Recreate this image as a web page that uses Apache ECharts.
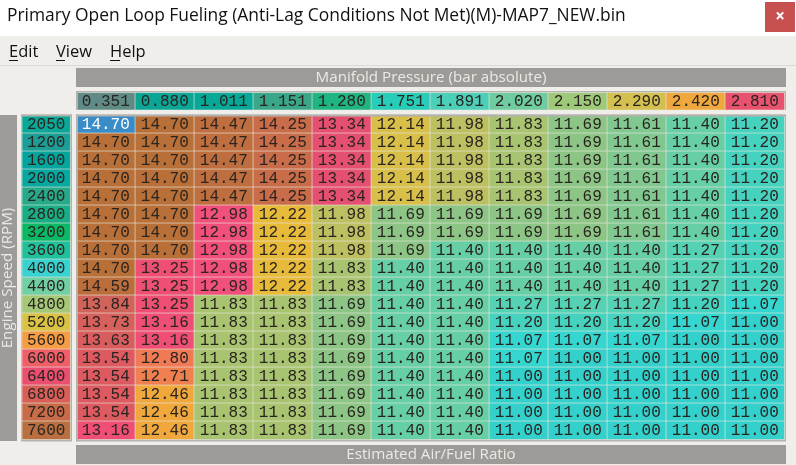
<!DOCTYPE html>
<html lang="en">
  <head>
    <meta charset="UTF-8" />
    <title>Primary Open Loop Fueling</title>
    <script src="https://cdn.jsdelivr.net/npm/echarts@6/dist/echarts.min.js"></script>
    <style>
      html, body { margin: 0; padding: 0; background: #f0eeeb; }
      #main { width: 796px; height: 465px; }
    </style>
  </head>

  <body>
    <div id="main"></div>
    <script type="text/javascript">
      const pressures = [0.351, 0.88, 1.011, 1.151, 1.28, 1.751, 1.891, 2.02, 2.15, 2.29, 2.42, 2.81];
      const rpms = [2050, 1200, 1600, 2000, 2400, 2800, 3200, 3600, 4000, 4400, 4800, 5200, 5600, 6000, 6400, 6800, 7200, 7600];
      const afr2050 = [14.7, 14.7, 14.47, 14.25, 13.34, 12.14, 11.98, 11.83, 11.69, 11.61, 11.4, 11.2];
      const afr1200 = [14.7, 14.7, 14.47, 14.25, 13.34, 12.14, 11.98, 11.83, 11.69, 11.61, 11.4, 11.2];
      const afr1600 = [14.7, 14.7, 14.47, 14.25, 13.34, 12.14, 11.98, 11.83, 11.69, 11.61, 11.4, 11.2];
      const afr2000 = [14.7, 14.7, 14.47, 14.25, 13.34, 12.14, 11.98, 11.83, 11.69, 11.61, 11.4, 11.2];
      const afr2400 = [14.7, 14.7, 14.47, 14.25, 13.34, 12.14, 11.98, 11.83, 11.69, 11.61, 11.4, 11.2];
      const afr2800 = [14.7, 14.7, 12.98, 12.22, 11.98, 11.69, 11.69, 11.69, 11.69, 11.61, 11.4, 11.2];
      const afr3200 = [14.7, 14.7, 12.98, 12.22, 11.98, 11.69, 11.69, 11.69, 11.69, 11.61, 11.4, 11.2];
      const afr3600 = [14.7, 14.7, 12.98, 12.22, 11.98, 11.69, 11.4, 11.4, 11.4, 11.4, 11.27, 11.2];
      const afr4000 = [14.7, 13.25, 12.98, 12.22, 11.83, 11.4, 11.4, 11.4, 11.4, 11.4, 11.27, 11.2];
      const afr4400 = [14.59, 13.25, 12.98, 12.22, 11.83, 11.4, 11.4, 11.4, 11.4, 11.4, 11.27, 11.2];
      const afr4800 = [13.84, 13.25, 11.83, 11.83, 11.69, 11.4, 11.4, 11.27, 11.27, 11.27, 11.2, 11.07];
      const afr5200 = [13.73, 13.16, 11.83, 11.83, 11.69, 11.4, 11.4, 11.2, 11.2, 11.2, 11.07, 11.0];
      const afr5600 = [13.63, 13.16, 11.83, 11.83, 11.69, 11.4, 11.4, 11.07, 11.07, 11.07, 11.0, 11.0];
      const afr6000 = [13.54, 12.8, 11.83, 11.83, 11.69, 11.4, 11.4, 11.07, 11.0, 11.0, 11.0, 11.0];
      const afr6400 = [13.54, 12.71, 11.83, 11.83, 11.69, 11.4, 11.4, 11.0, 11.0, 11.0, 11.0, 11.0];
      const afr6800 = [13.54, 12.46, 11.83, 11.83, 11.69, 11.4, 11.4, 11.0, 11.0, 11.0, 11.0, 11.0];
      const afr7200 = [13.54, 12.46, 11.83, 11.83, 11.69, 11.4, 11.4, 11.0, 11.0, 11.0, 11.0, 11.0];
      const afr7600 = [13.16, 12.46, 11.83, 11.83, 11.69, 11.4, 11.4, 11.0, 11.0, 11.0, 11.0, 11.0];
      const afrRows = [afr2050, afr1200, afr1600, afr2000, afr2400, afr2800, afr3200, afr3600, afr4000, afr4400, afr4800, afr5200, afr5600, afr6000, afr6400, afr6800, afr7200, afr7600];

      const pressureColors = ["#5f8a86", "#0aa595", "#06a898", "#3aa78a", "#1fb583", "#27cdb8", "#4ccfb8", "#6ecca0", "#9fc97a", "#d4c050", "#f0a83e", "#e8526e"];
      const rpmColors = ["#0ba898", "#1c9e96", "#04a59c", "#06a8a0", "#27a98a", "#19ad85", "#0bb866", "#1fc09a", "#38d2d0", "#70cfa3", "#a4c878", "#d9c244", "#f59d44", "#f05f68", "#ea4f70", "#d85f58", "#c86b48", "#b96f3f"];
      const afrColors = {
        "14.70": "#b86f38", "14.59": "#bb6e3b", "14.47": "#bf6f3f", "14.25": "#c96c49",
        "13.84": "#d0645a", "13.73": "#d5605c", "13.63": "#d95d5e", "13.54": "#dc5a60",
        "13.34": "#e65070", "13.25": "#ee4f73", "13.16": "#ef4f75", "12.98": "#f0507a",
        "12.80": "#f07a55", "12.71": "#f08050", "12.46": "#f0a83c", "12.22": "#e8ba3a",
        "12.14": "#d8bf4a", "11.98": "#bcc060", "11.83": "#a8c470", "11.69": "#8cc585",
        "11.61": "#80c890", "11.40": "#66cfa6", "11.27": "#55d1b4", "11.20": "#45d3c0",
        "11.07": "#36d6d0", "11.00": "#34d0cc"
      };

      const cellFont = { fontFamily: "Liberation Mono", fontSize: 16, color: "#2a2420" };
      const cellBorder = { borderColor: "rgba(232,232,222,0.62)", borderWidth: 1 };
      const headerFont = { fontFamily: "Open Sans", fontSize: 15.2, fill: "#ebe9e5" };
      const menuFont = { fontFamily: "Open Sans", fontSize: 16.5, fill: "#111" };

      const afrData = [];
      afrRows.forEach(function (row, r) {
        row.forEach(function (v, c) {
          const item = {
            value: [c, r, v],
            itemStyle: { color: afrColors[v.toFixed(2)] },
          };
          if (r === 0 && c === 0) {
            item.itemStyle.color = "#3a8cc8"; // selected cell
            item.label = { color: "#fff" };
          }
          afrData.push(item);
        });
      });
      const pressureData = pressures.map(function (p, c) {
        return { value: [c, 0, p], itemStyle: { color: pressureColors[c] } };
      });
      const rpmData = rpms.map(function (n, r) {
        return { value: [0, r, n], itemStyle: { color: rpmColors[r] } };
      });

      function panel(x, y, w, h, color) {
        return { type: "rect", z: -1, shape: { x: x, y: y, width: w, height: h }, style: { fill: color } };
      }
      function hiddenAxis(count, inverse, gridIndex) {
        return { type: "category", show: false, inverse: inverse, gridIndex: gridIndex, data: Array.from({ length: count }, function (_, i) { return i; }) };
      }
      function heat(name, xy, data, fmt) {
        return {
          type: "heatmap",
          name: name,
          xAxisIndex: xy,
          yAxisIndex: xy,
          data: data,
          itemStyle: cellBorder,
          label: Object.assign({ show: true, formatter: fmt }, cellFont),
          emphasis: { disabled: true },
        };
      }

      const myChart = echarts.init(document.getElementById("main"));
      const option = {
        animation: false,
        backgroundColor: "#f0eeeb",
        grid: [
          { left: 76.3, top: 115.3, width: 708, height: 324 },
          { left: 76.3, top: 92.8, width: 708, height: 17 },
          { left: 22.2, top: 115.3, width: 48, height: 324 },
        ],
        xAxis: [hiddenAxis(12, false, 0), hiddenAxis(12, false, 1), hiddenAxis(1, false, 2)],
        yAxis: [hiddenAxis(18, true, 0), hiddenAxis(1, true, 1), hiddenAxis(18, true, 2)],
        series: [
          heat("Estimated Air/Fuel Ratio", 0, afrData, function (p) { return p.value[2].toFixed(2); }),
          heat("Manifold Pressure", 1, pressureData, function (p) { return p.value[2].toFixed(3); }),
          heat("Engine Speed", 2, rpmData, function (p) { return String(p.value[2]); }),
        ],
        graphic: [
          panel(0, 0, 796, 36, "#ffffff"),
          panel(0, 65, 796, 1, "#dcdad6"),
          panel(76, 68, 710, 19, "#9d9b98"),
          panel(76, 445, 710, 19, "#9d9b98"),
          panel(0, 115, 17, 326, "#9d9b98"),
          panel(76, 91, 710, 19, "#b4b2ae"),
          panel(76, 114.5, 710, 327, "#b4b2ae"),
          panel(21, 114.5, 51, 327, "#b4b2ae"),
          panel(765, 2, 30, 30, "#c75050"),
          panel(9, 60, 9, 1, "#111"),
          panel(56, 60, 9, 1, "#111"),
          panel(110, 60, 10, 1, "#111"),
          // covers the overhang of the first column and first row
          { type: "rect", z: 50, shape: { x: 76, y: 114.5, width: 2, height: 327 }, style: { fill: "#b4b2ae" } },
          { type: "rect", z: 50, shape: { x: 76, y: 91, width: 2, height: 19 }, style: { fill: "#b4b2ae" } },
          { type: "rect", z: 50, shape: { x: 76, y: 114.5, width: 710, height: 2 }, style: { fill: "#b4b2ae" } },
          { type: "rect", z: 50, shape: { x: 21, y: 114.5, width: 51, height: 2 }, style: { fill: "#b4b2ae" } },
          { type: "text", z: 60, x: 7, y: 8, style: { text: "Primary Open Loop Fueling (Anti-Lag Conditions Not Met)(M)-MAP7_NEW.bin", fontFamily: "Open Sans", fontSize: 17.4, fill: "#111" } },
          { type: "text", z: 60, x: 780, y: 17, style: { text: "×", fontFamily: "Open Sans", fontSize: 17, fontWeight: "bold", fill: "#fff", align: "center", verticalAlign: "middle" } },
          { type: "text", z: 60, x: 9, y: 44, style: Object.assign({ text: "Edit" }, menuFont) },
          { type: "text", z: 60, x: 56, y: 44, style: Object.assign({ text: "View" }, menuFont) },
          { type: "text", z: 60, x: 110, y: 44, style: Object.assign({ text: "Help" }, menuFont) },
          { type: "text", z: 60, x: 431, y: 78, style: Object.assign({ text: "Manifold Pressure (bar absolute)", align: "center", verticalAlign: "middle" }, headerFont) },
          { type: "text", z: 60, x: 431, y: 455, style: Object.assign({ text: "Estimated Air/Fuel Ratio", align: "center", verticalAlign: "middle" }, headerFont) },
          { type: "text", z: 60, x: 8, y: 278, rotation: Math.PI / 2, style: Object.assign({ text: "Engine Speed (RPM)", align: "center", verticalAlign: "middle" }, headerFont) },
        ],
      };
      myChart.setOption(option);
    </script>
  </body>
</html>
